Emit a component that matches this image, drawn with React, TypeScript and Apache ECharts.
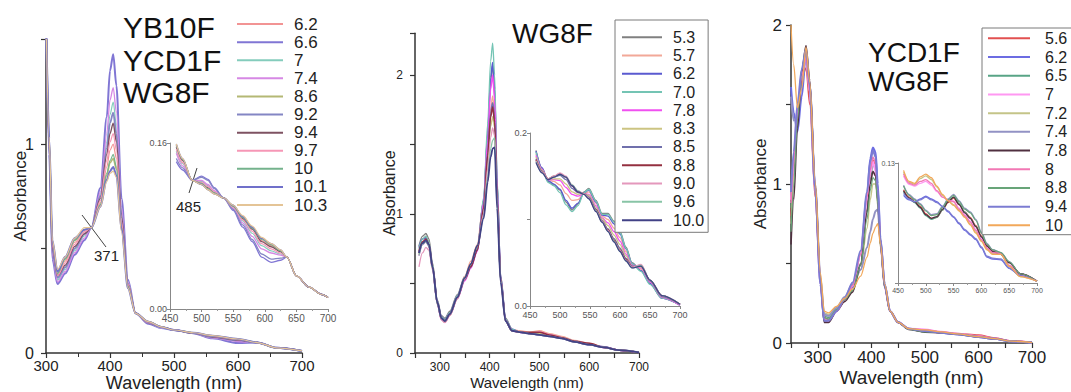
import React, { useEffect, useRef } from 'react';
import * as echarts from 'echarts';

// ---------- Panel 1 (YB10F / YCD1F / WG8F) ----------
const P1_X = [300, 305, 310, 318, 330, 345, 360, 371, 385, 395, 400, 405, 410, 418, 428, 440, 460, 480, 500, 530, 560, 600, 630, 660, 700];
const P1_LABELS = ['6.2', '6.6', '7', '7.4', '8.6', '9.2', '9.4', '9.7', '10', '10.1', '10.3'];
const P1_62 = [1.62, 1.01, 0.52, 0.38, 0.44, 0.53, 0.58, 0.6, 0.72, 0.89, 0.97, 1.0, 0.93, 0.62, 0.32, 0.19, 0.15, 0.125, 0.11, 0.096, 0.08, 0.065, 0.05, 0.025, 0.01];
const P1_66 = [1.62, 0.95, 0.45, 0.33, 0.38, 0.47, 0.54, 0.6, 0.79, 1.13, 1.35, 1.43, 1.28, 0.74, 0.35, 0.19, 0.14, 0.12, 0.11, 0.095, 0.07, 0.048, 0.05, 0.025, 0.01];
const P1_7 = [1.62, 0.98, 0.48, 0.35, 0.4, 0.49, 0.56, 0.6, 0.76, 1.01, 1.14, 1.2, 1.09, 0.68, 0.34, 0.19, 0.145, 0.12, 0.11, 0.095, 0.074, 0.058, 0.05, 0.025, 0.01];
const P1_74 = [1.62, 0.97, 0.47, 0.34, 0.39, 0.48, 0.55, 0.6, 0.77, 1.05, 1.21, 1.27, 1.15, 0.7, 0.34, 0.19, 0.145, 0.12, 0.11, 0.095, 0.072, 0.055, 0.05, 0.025, 0.01];
const P1_86 = [1.62, 1.02, 0.53, 0.39, 0.45, 0.54, 0.59, 0.6, 0.71, 0.85, 0.91, 0.93, 0.88, 0.6, 0.32, 0.19, 0.15, 0.125, 0.11, 0.097, 0.082, 0.066, 0.05, 0.025, 0.01];
const P1_92 = [1.62, 0.99, 0.49, 0.36, 0.41, 0.5, 0.57, 0.6, 0.75, 0.98, 1.1, 1.15, 1.05, 0.66, 0.33, 0.19, 0.145, 0.125, 0.11, 0.095, 0.076, 0.06, 0.05, 0.025, 0.01];
const P1_94 = [1.62, 1.0, 0.5, 0.37, 0.42, 0.51, 0.57, 0.6, 0.74, 0.95, 1.05, 1.1, 1.01, 0.65, 0.33, 0.19, 0.145, 0.125, 0.11, 0.095, 0.078, 0.062, 0.05, 0.025, 0.01];
const P1_97 = [1.62, 1.0, 0.51, 0.37, 0.43, 0.52, 0.58, 0.6, 0.73, 0.92, 1.01, 1.05, 0.97, 0.63, 0.33, 0.19, 0.145, 0.125, 0.11, 0.096, 0.08, 0.064, 0.05, 0.025, 0.01];
const P1_10 = [1.62, 1.02, 0.53, 0.38, 0.45, 0.54, 0.59, 0.6, 0.71, 0.86, 0.92, 0.95, 0.89, 0.6, 0.32, 0.19, 0.15, 0.125, 0.11, 0.097, 0.082, 0.066, 0.05, 0.025, 0.01];
const P1_101 = [1.62, 1.03, 0.54, 0.39, 0.46, 0.55, 0.59, 0.6, 0.7, 0.83, 0.87, 0.89, 0.85, 0.59, 0.31, 0.19, 0.15, 0.125, 0.11, 0.097, 0.083, 0.067, 0.05, 0.025, 0.01];
const P1_103 = [1.62, 1.03, 0.54, 0.4, 0.46, 0.55, 0.6, 0.6, 0.7, 0.82, 0.86, 0.87, 0.84, 0.58, 0.31, 0.19, 0.15, 0.125, 0.11, 0.097, 0.083, 0.067, 0.05, 0.025, 0.01];

const I1_X = [460, 470, 485, 500, 510, 520, 535, 550, 565, 580, 595, 610, 625, 635, 650, 670, 690, 700];
const I1_62 = [0.157, 0.143, 0.124, 0.121, 0.116, 0.112, 0.107, 0.099, 0.088, 0.078, 0.066, 0.061, 0.056, 0.05, 0.032, 0.021, 0.014, 0.011];
const I1_66 = [0.142, 0.134, 0.124, 0.128, 0.125, 0.117, 0.107, 0.095, 0.079, 0.065, 0.05, 0.045, 0.047, 0.05, 0.032, 0.021, 0.014, 0.011];
const I1_7 = [0.152, 0.14, 0.124, 0.123, 0.119, 0.113, 0.107, 0.098, 0.085, 0.073, 0.061, 0.056, 0.053, 0.05, 0.032, 0.021, 0.014, 0.011];
const I1_74 = [0.15, 0.138, 0.124, 0.124, 0.12, 0.114, 0.107, 0.097, 0.083, 0.07, 0.058, 0.054, 0.052, 0.05, 0.032, 0.021, 0.014, 0.011];
const I1_86 = [0.158, 0.144, 0.124, 0.12, 0.115, 0.111, 0.107, 0.1, 0.089, 0.079, 0.068, 0.062, 0.056, 0.05, 0.032, 0.021, 0.014, 0.011];
const I1_92 = [0.145, 0.136, 0.124, 0.127, 0.124, 0.116, 0.107, 0.096, 0.081, 0.067, 0.053, 0.048, 0.049, 0.05, 0.032, 0.021, 0.014, 0.011];
const I1_94 = [0.156, 0.143, 0.124, 0.121, 0.117, 0.112, 0.107, 0.099, 0.087, 0.077, 0.065, 0.06, 0.055, 0.05, 0.032, 0.021, 0.014, 0.011];
const I1_97 = [0.154, 0.141, 0.124, 0.122, 0.118, 0.113, 0.107, 0.098, 0.086, 0.075, 0.063, 0.058, 0.054, 0.05, 0.032, 0.021, 0.014, 0.011];
const I1_10 = [0.158, 0.144, 0.124, 0.121, 0.116, 0.112, 0.107, 0.099, 0.088, 0.078, 0.067, 0.062, 0.056, 0.05, 0.032, 0.021, 0.014, 0.011];
const I1_101 = [0.159, 0.145, 0.124, 0.12, 0.115, 0.111, 0.107, 0.1, 0.089, 0.079, 0.068, 0.063, 0.057, 0.05, 0.032, 0.021, 0.014, 0.011];
const I1_103 = [0.159, 0.145, 0.124, 0.12, 0.115, 0.111, 0.107, 0.1, 0.09, 0.08, 0.069, 0.063, 0.057, 0.05, 0.032, 0.021, 0.014, 0.011];

// ---------- Panel 2 (WG8F) ----------
const P2_X = [258, 265, 272, 278, 285, 295, 303, 310, 320, 335, 350, 362, 375, 388, 396, 402, 406, 410, 415, 422, 432, 445, 460, 480, 500, 520, 545, 570, 600, 630, 660, 700];
const P2_LABELS = ['5.3', '5.7', '6.2', '7.0', '7.8', '8.3', '8.5', '8.8', '9.0', '9.6', '10.0'];
const P2_53 = [0.77, 0.84, 0.86, 0.82, 0.65, 0.38, 0.27, 0.25, 0.3, 0.42, 0.55, 0.64, 0.75, 1.1, 1.57, 1.96, 2.07, 1.9, 1.22, 0.56, 0.25, 0.17, 0.15, 0.14, 0.14, 0.125, 0.105, 0.08, 0.06, 0.04, 0.02, 0.004];
const P2_57 = [0.74, 0.82, 0.84, 0.8, 0.64, 0.37, 0.26, 0.24, 0.29, 0.41, 0.55, 0.66, 0.78, 1.1, 1.48, 1.76, 1.85, 1.72, 1.14, 0.54, 0.24, 0.17, 0.16, 0.15, 0.16, 0.14, 0.12, 0.09, 0.07, 0.045, 0.02, 0.004];
const P2_62 = [0.76, 0.82, 0.83, 0.79, 0.63, 0.37, 0.26, 0.24, 0.29, 0.41, 0.54, 0.63, 0.74, 1.1, 1.58, 1.98, 2.09, 1.9, 1.22, 0.55, 0.24, 0.17, 0.15, 0.14, 0.13, 0.12, 0.11, 0.085, 0.06, 0.045, 0.02, 0.004];
const P2_70 = [0.75, 0.82, 0.84, 0.8, 0.64, 0.37, 0.26, 0.24, 0.29, 0.41, 0.54, 0.63, 0.74, 1.12, 1.65, 2.1, 2.23, 2.0, 1.25, 0.55, 0.24, 0.17, 0.15, 0.14, 0.14, 0.125, 0.11, 0.085, 0.065, 0.04, 0.02, 0.004];
const P2_78 = [0.7, 0.78, 0.8, 0.77, 0.61, 0.35, 0.24, 0.22, 0.27, 0.39, 0.52, 0.61, 0.73, 1.08, 1.52, 1.9, 2.0, 1.82, 1.18, 0.54, 0.23, 0.16, 0.15, 0.14, 0.15, 0.13, 0.11, 0.085, 0.065, 0.04, 0.02, 0.004];
const P2_83 = [0.71, 0.79, 0.81, 0.77, 0.61, 0.35, 0.24, 0.22, 0.27, 0.39, 0.53, 0.63, 0.76, 1.03, 1.38, 1.63, 1.7, 1.62, 1.1, 0.53, 0.23, 0.16, 0.15, 0.14, 0.14, 0.125, 0.11, 0.085, 0.065, 0.04, 0.02, 0.004];
const P2_85 = [0.72, 0.79, 0.81, 0.78, 0.62, 0.36, 0.25, 0.23, 0.28, 0.4, 0.53, 0.62, 0.74, 1.05, 1.44, 1.72, 1.8, 1.68, 1.12, 0.53, 0.23, 0.16, 0.15, 0.14, 0.13, 0.12, 0.105, 0.08, 0.06, 0.04, 0.02, 0.004];
const P2_88 = [0.73, 0.8, 0.82, 0.78, 0.62, 0.36, 0.25, 0.23, 0.28, 0.4, 0.53, 0.62, 0.74, 1.04, 1.42, 1.7, 1.77, 1.66, 1.11, 0.53, 0.23, 0.16, 0.15, 0.15, 0.15, 0.13, 0.11, 0.085, 0.07, 0.04, 0.02, 0.004];
const P2_90 = [0.62, 0.72, 0.76, 0.74, 0.6, 0.35, 0.24, 0.22, 0.27, 0.39, 0.53, 0.64, 0.77, 1.0, 1.33, 1.55, 1.62, 1.56, 1.08, 0.52, 0.23, 0.16, 0.15, 0.14, 0.13, 0.12, 0.105, 0.08, 0.06, 0.04, 0.02, 0.004];
const P2_96 = [0.7, 0.78, 0.8, 0.77, 0.61, 0.35, 0.25, 0.23, 0.28, 0.4, 0.54, 0.64, 0.77, 0.98, 1.27, 1.47, 1.53, 1.55, 1.06, 0.52, 0.23, 0.16, 0.15, 0.14, 0.13, 0.12, 0.105, 0.08, 0.06, 0.04, 0.02, 0.004];
const P2_100 = [0.72, 0.79, 0.81, 0.78, 0.62, 0.36, 0.25, 0.23, 0.28, 0.4, 0.54, 0.64, 0.77, 0.97, 1.23, 1.41, 1.47, 1.48, 1.04, 0.51, 0.23, 0.16, 0.15, 0.14, 0.13, 0.12, 0.105, 0.08, 0.06, 0.04, 0.02, 0.004];

const I2_X = [460, 470, 480, 490, 500, 510, 520, 530, 540, 548, 560, 570, 580, 590, 600, 610, 620, 635, 650, 670, 700];
const I2_53 = [0.18, 0.159, 0.144, 0.14, 0.134, 0.12, 0.111, 0.118, 0.132, 0.136, 0.122, 0.107, 0.107, 0.098, 0.086, 0.068, 0.05, 0.041, 0.026, 0.009, 0.001];
const I2_57 = [0.176, 0.159, 0.146, 0.144, 0.14, 0.13, 0.122, 0.123, 0.13, 0.132, 0.119, 0.104, 0.1, 0.09, 0.079, 0.063, 0.048, 0.043, 0.027, 0.01, 0.001];
const I2_62 = [0.179, 0.16, 0.145, 0.141, 0.135, 0.122, 0.113, 0.119, 0.131, 0.134, 0.12, 0.105, 0.104, 0.095, 0.083, 0.066, 0.049, 0.041, 0.026, 0.009, 0.001];
const I2_70 = [0.178, 0.158, 0.143, 0.139, 0.131, 0.117, 0.109, 0.116, 0.131, 0.135, 0.121, 0.106, 0.106, 0.097, 0.085, 0.067, 0.049, 0.04, 0.025, 0.009, 0.001];
const I2_78 = [0.174, 0.158, 0.146, 0.146, 0.145, 0.137, 0.129, 0.127, 0.13, 0.129, 0.116, 0.102, 0.096, 0.086, 0.075, 0.06, 0.047, 0.044, 0.028, 0.01, 0.001];
const I2_83 = [0.172, 0.157, 0.147, 0.147, 0.147, 0.141, 0.132, 0.129, 0.13, 0.128, 0.114, 0.101, 0.093, 0.082, 0.071, 0.058, 0.046, 0.045, 0.029, 0.011, 0.002];
const I2_85 = [0.17, 0.156, 0.147, 0.149, 0.151, 0.146, 0.136, 0.131, 0.13, 0.126, 0.112, 0.099, 0.089, 0.078, 0.067, 0.055, 0.046, 0.046, 0.029, 0.011, 0.002];
const I2_88 = [0.169, 0.155, 0.147, 0.15, 0.153, 0.149, 0.139, 0.132, 0.13, 0.125, 0.111, 0.098, 0.088, 0.076, 0.065, 0.054, 0.045, 0.047, 0.03, 0.012, 0.002];
const I2_90 = [0.168, 0.155, 0.147, 0.15, 0.154, 0.15, 0.14, 0.133, 0.13, 0.125, 0.11, 0.098, 0.087, 0.075, 0.064, 0.053, 0.045, 0.048, 0.03, 0.012, 0.002];
const I2_96 = [0.167, 0.154, 0.146, 0.149, 0.152, 0.149, 0.14, 0.133, 0.129, 0.124, 0.11, 0.097, 0.086, 0.075, 0.063, 0.052, 0.044, 0.047, 0.03, 0.012, 0.002];
const I2_100 = [0.166, 0.154, 0.146, 0.149, 0.152, 0.149, 0.139, 0.132, 0.129, 0.124, 0.109, 0.097, 0.086, 0.074, 0.063, 0.052, 0.044, 0.046, 0.03, 0.012, 0.002];

// ---------- Panel 3 (YCD1F / WG8F) ----------
const P3_X = [250, 255, 262, 270, 278, 285, 295, 305, 312, 320, 335, 350, 365, 380, 392, 398, 403, 408, 412, 417, 425, 435, 450, 470, 500, 530, 560, 600, 630, 660, 700];
const P3_LABELS = ['5.6', '6.2', '6.5', '7', '7.2', '7.4', '7.8', '8', '8.8', '9.4', '10'];
const P3_56 = [0.8, 1.05, 1.4, 1.65, 1.73, 1.5, 0.92, 0.38, 0.16, 0.15, 0.21, 0.27, 0.33, 0.5, 0.84, 1.05, 1.15, 1.12, 0.95, 0.65, 0.36, 0.2, 0.13, 0.09, 0.08, 0.07, 0.06, 0.05, 0.032, 0.014, 0.003];
const P3_62 = [1.61, 1.45, 1.33, 1.55, 1.82, 1.6, 0.98, 0.37, 0.14, 0.14, 0.2, 0.27, 0.35, 0.56, 0.93, 1.16, 1.23, 1.2, 1.0, 0.66, 0.37, 0.2, 0.13, 0.09, 0.075, 0.065, 0.055, 0.038, 0.026, 0.011, 0.003];
const P3_65 = [0.85, 1.1, 1.45, 1.72, 1.84, 1.6, 0.98, 0.39, 0.17, 0.16, 0.21, 0.27, 0.33, 0.5, 0.84, 1.03, 1.12, 1.09, 0.93, 0.64, 0.36, 0.2, 0.13, 0.085, 0.07, 0.065, 0.055, 0.04, 0.028, 0.012, 0.003];
const P3_7 = [0.9, 1.15, 1.48, 1.7, 1.8, 1.58, 0.98, 0.38, 0.15, 0.14, 0.2, 0.27, 0.36, 0.56, 0.9, 1.07, 1.14, 1.08, 0.9, 0.62, 0.35, 0.2, 0.13, 0.09, 0.085, 0.07, 0.058, 0.042, 0.028, 0.012, 0.003];
const P3_72 = [0.75, 1.0, 1.4, 1.72, 1.84, 1.62, 1.0, 0.42, 0.19, 0.18, 0.22, 0.27, 0.33, 0.46, 0.72, 0.9, 1.0, 1.0, 0.86, 0.6, 0.35, 0.2, 0.13, 0.09, 0.08, 0.07, 0.057, 0.04, 0.028, 0.012, 0.003];
const P3_74 = [1.55, 1.4, 1.42, 1.62, 1.84, 1.62, 1.0, 0.41, 0.18, 0.17, 0.22, 0.29, 0.37, 0.46, 0.6, 0.7, 0.78, 0.83, 0.84, 0.64, 0.37, 0.2, 0.13, 0.09, 0.075, 0.065, 0.055, 0.038, 0.026, 0.011, 0.003];
const P3_78 = [0.62, 0.9, 1.35, 1.7, 1.87, 1.65, 1.0, 0.38, 0.13, 0.13, 0.2, 0.26, 0.32, 0.49, 0.82, 1.0, 1.08, 1.05, 0.9, 0.62, 0.35, 0.2, 0.13, 0.085, 0.068, 0.065, 0.055, 0.04, 0.028, 0.012, 0.003];
const P3_8 = [0.88, 1.12, 1.46, 1.68, 1.79, 1.58, 0.98, 0.38, 0.15, 0.14, 0.2, 0.27, 0.36, 0.56, 0.92, 1.09, 1.17, 1.13, 0.95, 0.64, 0.36, 0.2, 0.13, 0.09, 0.083, 0.07, 0.058, 0.045, 0.03, 0.013, 0.003];
const P3_88 = [0.7, 0.98, 1.4, 1.72, 1.85, 1.62, 0.99, 0.39, 0.16, 0.15, 0.21, 0.27, 0.33, 0.49, 0.78, 0.96, 1.04, 1.02, 0.88, 0.61, 0.35, 0.2, 0.13, 0.085, 0.07, 0.065, 0.055, 0.04, 0.028, 0.012, 0.003];
const P3_94 = [0.95, 1.2, 1.5, 1.72, 1.85, 1.62, 0.98, 0.37, 0.14, 0.14, 0.2, 0.28, 0.38, 0.58, 0.95, 1.14, 1.21, 1.17, 0.97, 0.65, 0.36, 0.2, 0.13, 0.09, 0.075, 0.065, 0.055, 0.038, 0.026, 0.011, 0.003];
const P3_10 = [2.0, 1.75, 1.48, 1.6, 1.86, 1.64, 1.02, 0.44, 0.2, 0.19, 0.23, 0.28, 0.34, 0.42, 0.54, 0.63, 0.69, 0.73, 0.75, 0.62, 0.37, 0.2, 0.13, 0.09, 0.082, 0.07, 0.057, 0.04, 0.028, 0.012, 0.003];

const I3_X = [460, 470, 480, 490, 500, 510, 520, 530, 540, 550, 560, 570, 580, 590, 600, 610, 620, 635, 650, 670, 700];
const I3_56 = [0.101, 0.093, 0.088, 0.083, 0.075, 0.07, 0.071, 0.079, 0.087, 0.092, 0.085, 0.077, 0.071, 0.062, 0.051, 0.041, 0.035, 0.032, 0.022, 0.01, 0.002];
const I3_62 = [0.095, 0.09, 0.088, 0.091, 0.094, 0.091, 0.088, 0.083, 0.077, 0.071, 0.064, 0.057, 0.052, 0.047, 0.038, 0.028, 0.026, 0.025, 0.016, 0.008, 0.002];
const I3_65 = [0.099, 0.092, 0.087, 0.081, 0.073, 0.069, 0.071, 0.079, 0.088, 0.093, 0.086, 0.077, 0.07, 0.061, 0.05, 0.04, 0.034, 0.031, 0.022, 0.01, 0.002];
const I3_7 = [0.116, 0.107, 0.105, 0.108, 0.11, 0.106, 0.099, 0.093, 0.09, 0.089, 0.081, 0.074, 0.067, 0.058, 0.048, 0.038, 0.033, 0.032, 0.019, 0.008, 0.002];
const I3_72 = [0.12, 0.109, 0.107, 0.113, 0.116, 0.112, 0.104, 0.095, 0.089, 0.085, 0.079, 0.072, 0.064, 0.055, 0.046, 0.037, 0.032, 0.031, 0.018, 0.007, 0.002];
const I3_74 = [0.106, 0.096, 0.091, 0.086, 0.079, 0.074, 0.075, 0.083, 0.091, 0.096, 0.089, 0.081, 0.077, 0.069, 0.055, 0.043, 0.036, 0.033, 0.023, 0.01, 0.002];
const I3_78 = [0.1, 0.092, 0.088, 0.082, 0.074, 0.07, 0.072, 0.08, 0.088, 0.093, 0.085, 0.076, 0.07, 0.061, 0.05, 0.04, 0.034, 0.031, 0.022, 0.01, 0.002];
const I3_8 = [0.118, 0.108, 0.106, 0.11, 0.112, 0.108, 0.1, 0.093, 0.09, 0.088, 0.08, 0.073, 0.066, 0.057, 0.047, 0.038, 0.033, 0.032, 0.019, 0.008, 0.002];
const I3_88 = [0.105, 0.095, 0.09, 0.085, 0.078, 0.073, 0.074, 0.082, 0.09, 0.095, 0.088, 0.08, 0.076, 0.068, 0.054, 0.042, 0.036, 0.033, 0.023, 0.01, 0.002];
const I3_94 = [0.097, 0.091, 0.088, 0.09, 0.093, 0.09, 0.087, 0.083, 0.078, 0.072, 0.065, 0.058, 0.053, 0.048, 0.039, 0.029, 0.027, 0.026, 0.016, 0.008, 0.002];
const I3_10 = [0.122, 0.11, 0.108, 0.115, 0.118, 0.114, 0.105, 0.096, 0.089, 0.084, 0.078, 0.071, 0.063, 0.054, 0.045, 0.036, 0.031, 0.031, 0.018, 0.007, 0.002];

const P1_MAIN = [P1_62, P1_66, P1_7, P1_74, P1_86, P1_92, P1_94, P1_97, P1_10, P1_101, P1_103];
const P1_INSET = [I1_62, I1_66, I1_7, I1_74, I1_86, I1_92, I1_94, I1_97, I1_10, I1_101, I1_103];
const P2_MAIN = [P2_53, P2_57, P2_62, P2_70, P2_78, P2_83, P2_85, P2_88, P2_90, P2_96, P2_100];
const P2_INSET = [I2_53, I2_57, I2_62, I2_70, I2_78, I2_83, I2_85, I2_88, I2_90, I2_96, I2_100];
const P3_MAIN = [P3_56, P3_62, P3_65, P3_7, P3_72, P3_74, P3_78, P3_8, P3_88, P3_94, P3_10];
const P3_INSET = [I3_56, I3_62, I3_65, I3_7, I3_72, I3_74, I3_78, I3_8, I3_88, I3_94, I3_10];

// styles
const P1_COLORS = ['#f29494', '#8076d4', '#84ccbc', '#d688e4', '#b4b874', '#8486c4', '#7e5262', '#f697b6', '#74b28c', '#7070ca', '#e4c496'];
const P1_WIDTHS = [1.2, 2, 1.2, 1.3, 1.6, 1.8, 1.4, 1.2, 1.2, 2, 1.2];
const P2_COLORS = ['#808080', '#f2a898', '#5a5ad0', '#74c4b4', '#f050f0', '#ccc482', '#7070ac', '#943040', '#e498bc', '#88c4a6', '#424286'];
const P2_WIDTHS = [1.4, 1.3, 1.5, 1.3, 1.5, 1.3, 1.8, 1.5, 1.3, 1.3, 1.8];
const P3_COLORS = ['#e25050', '#6c6ce2', '#58a486', '#ff98f2', '#c4c488', '#9292c4', '#503040', '#f278b4', '#68a478', '#7c7cd2', '#f2a85a'];
const P3_WIDTHS = [1.4, 2, 1.2, 2, 1.3, 2, 1.6, 1.5, 1.2, 2, 1.3];

const FONT = "'Liberation Sans', Arial, sans-serif";
const TXT = '#222';

function pairs(xs: number[], ys: number[]) {
  return xs.map((x, i) => [x, ys[i]]);
}

function buildSeries(prefix: string, labels: string[], colors: string[], widths: number[], mainX: number[], main: number[][], insetX: number[], inset: number[][], mainIdx: number, insetIdx: number) {
  const out: any[] = [];
  labels.forEach((lab, i) => {
    const name = prefix + ':' + lab;
    const common = {
      type: 'line', name, symbol: 'none', showSymbol: false, smooth: 0.3, smoothMonotone: 'x',
      silent: true, clip: true, animation: false,
      lineStyle: { color: colors[i], width: widths[i] }, itemStyle: { color: colors[i] },
    };
    out.push({ ...common, xAxisIndex: mainIdx, yAxisIndex: mainIdx, data: pairs(mainX, main[i]) });
    out.push({ ...common, xAxisIndex: insetIdx, yAxisIndex: insetIdx, lineStyle: { color: colors[i], width: Math.min(widths[i], 1.3) }, data: pairs(insetX, inset[i]) });
  });
  return out;
}

const axisLine = { show: true, lineStyle: { color: '#333', width: 1.5 } };
const insetLine = { show: true, lineStyle: { color: '#888', width: 1 } };

function mainX(gridIndex: number, min: number, interval: number, fontSize: number, margin: number, nameFont: number, nameGap: number, minor: boolean) {
  return {
    type: 'value', gridIndex, min, max: 700, interval,
    axisLine, splitLine: { show: false },
    axisTick: { show: true, length: 5, lineStyle: { color: '#333', width: 1.2 } },
    minorTick: minor ? { show: true, splitNumber: 2, length: 4, lineStyle: { color: '#333' } } : { show: false },
    axisLabel: { fontSize, color: TXT, fontFamily: FONT, margin, formatter: (v: number) => (v % 100 === 0 ? String(v) : '') },
    name: 'Wavelength (nm)', nameLocation: 'middle', nameGap, nameMoveOverlap: false,
    nameTextStyle: { fontSize: nameFont, color: TXT, fontFamily: FONT },
  };
}

function mainY(gridIndex: number, max: number, shown: number[], fontSize: number, margin: number, nameFont: number, nameGap: number) {
  return {
    type: 'value', gridIndex, min: 0, max, interval: 0.5,
    axisLine, splitLine: { show: false },
    axisTick: { show: true, length: 5, lineStyle: { color: '#333', width: 1.2 } },
    axisLabel: { fontSize, color: TXT, fontFamily: FONT, margin, showMaxLabel: true, formatter: (v: number) => (shown.indexOf(v) >= 0 ? String(v) : '') },
    name: 'Absorbance', nameLocation: 'middle', nameGap, nameMoveOverlap: false,
    nameTextStyle: { fontSize: nameFont, color: TXT, fontFamily: FONT },
  };
}

function insetX(gridIndex: number, fontSize: number, margin: number) {
  return {
    type: 'value', gridIndex, min: 450, max: 700, interval: 50,
    axisLine: insetLine, splitLine: { show: false },
    axisTick: { show: true, length: 3, lineStyle: { color: '#888' } },
    minorTick: { show: true, splitNumber: 2, length: 2, lineStyle: { color: '#999' } },
    axisLabel: { fontSize, color: '#555', fontFamily: FONT, margin },
  };
}

function insetY(gridIndex: number, max: number, interval: number, fmt: (v: number) => string, fontSize: number, margin: number) {
  return {
    type: 'value', gridIndex, min: 0, max, interval,
    axisLine: insetLine, splitLine: { show: false },
    axisTick: { show: true, length: 3, lineStyle: { color: '#888' } },
    axisLabel: { fontSize, color: '#555', fontFamily: FONT, margin, showMaxLabel: true, formatter: fmt },
  };
}

function legend(prefix: string, labels: string[], left: number, top: number, itemWidth: number, fontSize: number, lineHeight: number, textPad: number, boxed: boolean, padding: number[]) {
  return {
    data: labels.map((l) => prefix + ':' + l),
    orient: 'vertical', left, top, itemWidth, itemHeight: 2, itemGap: 0, icon: 'rect',
    padding, selectedMode: false,
    borderColor: boxed ? '#7a7a7a' : 'transparent', borderWidth: boxed ? 1 : 0,
    backgroundColor: boxed ? '#fff' : 'transparent',
    formatter: (n: string) => n.split(':')[1],
    textStyle: { fontSize, lineHeight, color: TXT, fontFamily: FONT, padding: [0, 0, 0, textPad] },
  };
}

function bigText(text: string, x: number, y: number, size: number) {
  return { type: 'text', x, y, silent: true, style: { text, fontSize: size, fontFamily: FONT, fill: '#111', verticalAlign: 'middle', align: 'left' } };
}

function seg(x1: number, y1: number, x2: number, y2: number, color = '#444', w = 1) {
  return { type: 'line', silent: true, shape: { x1, y1, x2, y2 }, style: { stroke: color, lineWidth: w } };
}

export default function App() {
  const ref = useRef<HTMLDivElement>(null);
  useEffect(() => {
    if (!ref.current) return;
    const chart = echarts.init(ref.current, null, { renderer: 'svg' });
    const grids = [
      { left: 46, top: 39.5, width: 256, height: 313.5 },
      { left: 170, top: 143, width: 158, height: 166 },
      { left: 415, top: 33.3, width: 224, height: 319.7 },
      { left: 530, top: 133, width: 150, height: 173 },
      { left: 791, top: 25, width: 241, height: 318 },
      { left: 898, top: 163, width: 139, height: 120 },
    ].map((g) => ({ ...g, containLabel: false, outerBoundsMode: 'none' }));

    const option: any = {
      animation: false,
      backgroundColor: '#fff',
      grid: grids,
      xAxis: [
        mainX(0, 300, 100, 15, 5, 18, 21, true),
        insetX(1, 10, 4),
        mainX(2, 250, 50, 12, 8, 15, 22, false),
        insetX(3, 9, 4),
        mainX(4, 250, 50, 17, 6, 19, 25, false),
        insetX(5, 7, 4),
      ],
      yAxis: [
        mainY(0, 1.5, [0, 1], 16, 12, 17, 17),
        insetY(1, 0.16, 0.16, (v: number) => v.toFixed(2), 9, 3),
        mainY(2, 2.3, [0, 1, 2], 12, 12, 16, 18),
        insetY(3, 0.2, 0.1, (v: number) => (Math.abs(v - 0.1) < 1e-9 ? '' : v.toFixed(1)), 9, 3),
        mainY(4, 2, [0, 1, 2], 17, 9, 17, 22),
        insetY(5, 0.13, 0.13, (v: number) => (v > 0 ? '0.13' : ''), 7, 3),
      ],
      legend: [
        legend('p1', P1_LABELS, 237, 15, 46, 17, 18.1, 6, false, [0, 0, 0, 0]),
        legend('p2', P2_LABELS, 615, 20, 40, 16, 18.3, 6, true, [8, 4, 3, 7]),
        legend('p3', P3_LABELS, 982, 28, 42, 16, 18.7, 10, true, [1, 40, 0, 6]),
      ],
      series: [
        ...buildSeries('p1', P1_LABELS, P1_COLORS, P1_WIDTHS, P1_X, P1_MAIN, I1_X, P1_INSET, 0, 1),
        ...buildSeries('p2', P2_LABELS, P2_COLORS, P2_WIDTHS, P2_X, P2_MAIN, I2_X, P2_INSET, 2, 3),
        ...buildSeries('p3', P3_LABELS, P3_COLORS, P3_WIDTHS, P3_X, P3_MAIN, I3_X, P3_INSET, 4, 5),
      ],
      graphic: [
        bigText('YB10F', 123, 27, 30),
        bigText('YCD1F', 123, 60, 30),
        bigText('WG8F', 123, 92, 30),
        bigText('WG8F', 512, 33, 28),
        bigText('YCD1F', 868, 52, 28),
        bigText('WG8F', 868, 81, 28),
        seg(82, 215, 106, 247),
        { type: 'text', x: 94, y: 255, silent: true, style: { text: '371', fontSize: 15, fontFamily: FONT, fill: '#222', verticalAlign: 'middle' } },
        seg(197, 168, 189, 193),
        { type: 'text', x: 176, y: 206, silent: true, style: { text: '485', fontSize: 15, fontFamily: FONT, fill: '#222', verticalAlign: 'middle' } },
        seg(672, 229, 698, 229, '#222', 1.2),
        seg(1046, 215, 1064, 215, '#222', 1.2),
      ],
    };
    chart.setOption(option);
    return () => chart.dispose();
  }, []);
  return <div ref={ref} style={{ position: 'absolute', left: 0, top: 0, width: 1071, height: 392 }} />;
}
